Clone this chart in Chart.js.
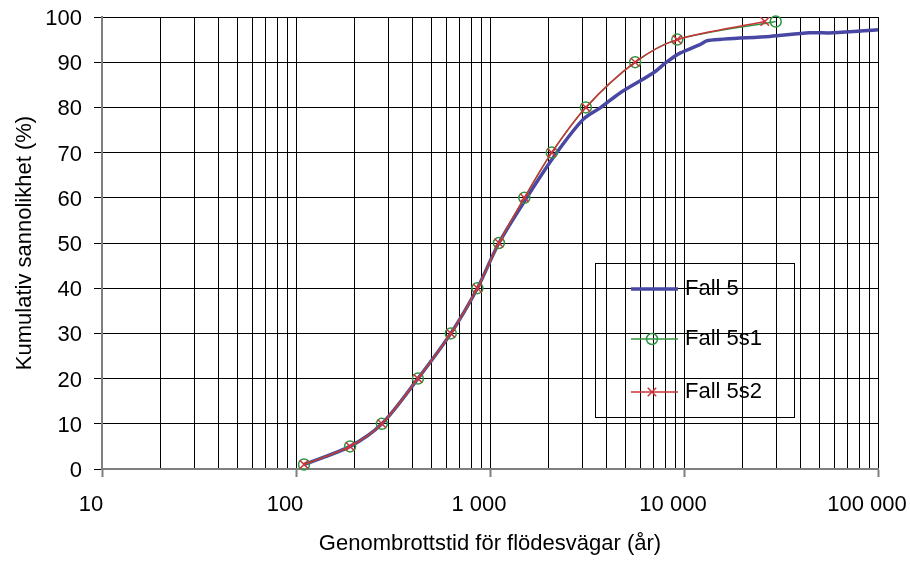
<!DOCTYPE html>
<html>
<head>
<meta charset="utf-8">
<script src="https://cdn.jsdelivr.net/npm/chart.js@4/dist/chart.umd.min.js"></script>
<style>
  body { margin: 0; background: #fff; }
  #wrap { width: 910px; height: 562px; }
</style>
</head>
<body>
<div id="wrap"><canvas id="cdfChart" width="910" height="562"></canvas></div>
<script>
// values
const seriesLabels = ['Fall 5', 'Fall 5s1', 'Fall 5s2'];

const fall5Time = [110, 190, 277, 425, 628, 861, 1112, 1545, 2210, 3030, 3730, 4680, 6930, 8130, 9530, 12080, 13300, 27700, 44500, 58600, 100000];
const fall5Prob = [1, 5, 10, 20, 30, 40, 50, 60, 70, 77.4, 80, 83.2, 87.6, 90, 92, 93.9, 94.8, 95.7, 96.5, 96.5, 97.2];

const markerProb = [1, 5, 10, 20, 30, 40, 50, 60, 70, 80, 90, 95, 99];
const fall5s1Time = [110, 190, 277, 425, 628, 861, 1112, 1503, 2080, 3120, 5600, 9230, 29700];
const fall5s2Time = [110, 190, 277, 425, 628, 861, 1112, 1503, 2080, 3120, 5600, 9230, 26100];

const yTicks = { min: 0, max: 100, step: 10 };
const xRange = { min: 10, max: 100000 };

const FONT = '"Liberation Sans", Arial, Helvetica, sans-serif';

function pairs(xs, ys) {
    return xs.map((x, i) => ({ x: x, y: ys[i] }));
}

function isDecade(v) {
    const e = Math.log10(v);
    return Math.abs(e - Math.round(e)) < 1e-9;
}

function spaced(v) {
    return String(Math.round(v)).replace(/\B(?=(\d{3})+(?!\d))/g, ' ');
}

// legend box drawn inside the plot, like the original
const boxLegend = {
    id: 'boxLegend',
    afterDraw(chart) {
        const ctx = chart.ctx;
        const bx = 595, by = 263, bw = 199, bh = 154;
        const rows = [289, 339, 392];
        ctx.save();
        ctx.strokeStyle = '#000';
        ctx.lineWidth = 1;
        ctx.strokeRect(bx + 0.5, by + 0.5, bw, bh);
        chart.data.datasets.forEach((ds, i) => {
            const y = rows[i];
            ctx.strokeStyle = ds.borderColor;
            ctx.lineWidth = ds.borderWidth;
            ctx.beginPath();
            ctx.moveTo(631, y);
            ctx.lineTo(678, y);
            ctx.stroke();
            if (ds.pointRadius > 0) {
                const r = ds.pointRadius, cx = 652;
                ctx.strokeStyle = ds.pointBorderColor;
                ctx.lineWidth = ds.pointBorderWidth;
                ctx.beginPath();
                if (ds.pointStyle === 'circle') {
                    ctx.arc(cx, y, r, 0, Math.PI * 2);
                } else {
                    const d = r * Math.SQRT1_2;
                    ctx.moveTo(cx - d, y - d); ctx.lineTo(cx + d, y + d);
                    ctx.moveTo(cx + d, y - d); ctx.lineTo(cx - d, y + d);
                }
                ctx.stroke();
            }
            ctx.fillStyle = '#000';
            ctx.font = '22px ' + FONT;
            ctx.textBaseline = 'middle';
            ctx.textAlign = 'left';
            ctx.fillText(ds.label, 685, y);
        });
        ctx.restore();
    }
};

const ctx = document.getElementById('cdfChart').getContext('2d');
const cdfChart = new Chart(ctx, {
    type: 'line',
    data: {
        datasets: [
            {
                label: seriesLabels[0],
                data: pairs(fall5Time, fall5Prob),
                borderColor: '#4848a4',
                borderWidth: 3.5,
                pointRadius: 0,
                tension: 0.3,
                order: 3
            },
            {
                label: seriesLabels[1],
                data: pairs(fall5s1Time, markerProb),
                borderColor: '#2f9540',
                borderWidth: 1.5,
                pointStyle: 'circle',
                pointRadius: 5.5,
                pointBorderColor: '#2f9540',
                pointBorderWidth: 1.5,
                pointBackgroundColor: 'rgba(0,0,0,0)',
                tension: 0.3,
                order: 2
            },
            {
                label: seriesLabels[2],
                data: pairs(fall5s2Time, markerProb),
                borderColor: '#cc3437',
                borderWidth: 1.5,
                pointStyle: 'crossRot',
                pointRadius: 6,
                pointBorderColor: '#cc3437',
                pointBorderWidth: 1.5,
                tension: 0.3,
                order: 1
            }
        ]
    },
    options: {
        responsive: false,
        animation: false,
        devicePixelRatio: 1,
        clip: false,
        layout: { padding: { left: 0, top: 17, right: 32, bottom: 0 } },
        plugins: {
            legend: { display: false },
            tooltip: { enabled: false }
        },
        scales: {
            x: {
                type: 'logarithmic',
                min: xRange.min,
                max: xRange.max,
                afterBuildTicks: s => {
                    s.ticks = s.ticks.filter(t => {
                        const m = t.value / Math.pow(10, Math.floor(Math.log10(t.value) + 1e-9));
                        return Math.abs(m - Math.round(m)) < 1e-6;
                    });
                },
                afterFit: s => {
                    s.height = 93;
                    s.paddingLeft = 0;
                    s.paddingRight = 0;
                },
                border: { color: '#7f7f7f', width: 2 },
                grid: {
                    color: '#000',
                    lineWidth: 1,
                    tickLength: 8,
                    tickWidth: 2,
                    tickColor: c => (c.tick && isDecade(c.tick.value)) ? '#7f7f7f' : 'rgba(0,0,0,0)'
                },
                ticks: {
                    autoSkip: false,
                    maxRotation: 0,
                    padding: 15,
                    labelOffset: -11,
                    color: '#000',
                    font: { family: FONT, size: 22 },
                    callback: v => isDecade(v) ? spaced(v) : ''
                },
                title: {
                    display: true,
                    text: 'Genombrottstid för flödesvägar (år)',
                    color: '#000',
                    font: { family: FONT, size: 22 },
                    padding: { top: 0, bottom: 5 }
                }
            },
            y: {
                min: yTicks.min,
                max: yTicks.max,
                afterFit: s => {
                    s.width = 102;
                    s.paddingTop = 0;
                    s.paddingBottom = 0;
                },
                border: { color: '#7f7f7f', width: 2 },
                grid: {
                    color: '#000',
                    lineWidth: 1,
                    tickLength: 8,
                    tickColor: '#000'
                },
                ticks: {
                    stepSize: yTicks.step,
                    padding: 12,
                    labelOffset: 2,
                    color: '#000',
                    font: { family: FONT, size: 22 }
                },
                title: {
                    display: true,
                    text: 'Kumulativ sannolikhet (%)',
                    color: '#000',
                    font: { family: FONT, size: 22 },
                    padding: { top: 12, bottom: 0 }
                }
            }
        }
    },
    plugins: [boxLegend]
});
</script>
</body>
</html>
